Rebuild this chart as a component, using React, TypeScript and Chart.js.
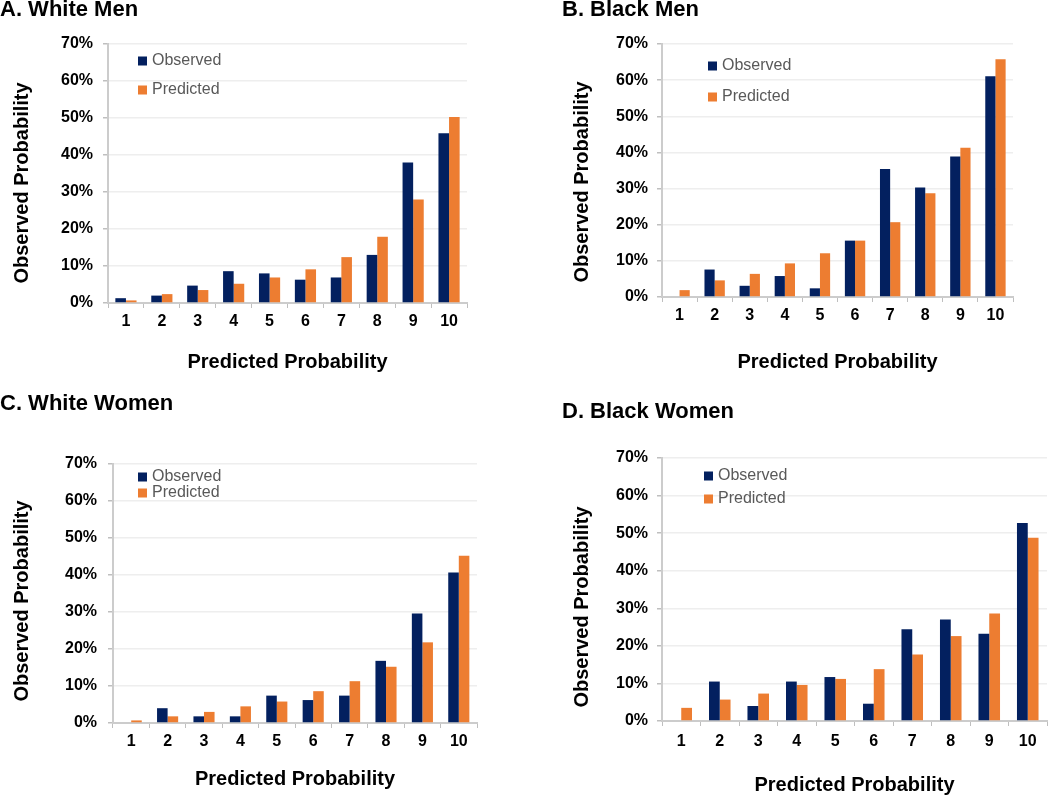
import React, { useEffect, useRef } from 'react';
import { Chart, registerables } from 'chart.js';

Chart.register(...registerables);

// ---------- data ----------
const categories = ['1', '2', '3', '4', '5', '6', '7', '8', '9', '10'];
const yTickValues = [0, 10, 20, 30, 40, 50, 60, 70];
const seriesNames = ['Observed', 'Predicted'];
const xAxisTitle = 'Predicted Probability';
const yAxisTitle = 'Observed Probability';
const panelTitles = ['A. White Men', 'B. Black Men', 'C. White Women', 'D. Black Women'];

const whiteMenObserved = [1.3, 2.0, 4.7, 8.6, 8.0, 6.3, 6.9, 13.0, 38.0, 45.9];
const whiteMenPredicted = [0.7, 2.4, 3.5, 5.2, 6.9, 9.1, 12.4, 17.9, 28.0, 50.3];
const blackMenObserved = [0, 7.6, 3.1, 5.8, 2.4, 15.6, 35.4, 30.3, 38.9, 61.1];
const blackMenPredicted = [1.9, 4.6, 6.4, 9.3, 12.1, 15.6, 20.7, 28.7, 41.3, 65.8];
const whiteWomenObserved = [0, 4.0, 1.8, 1.8, 7.4, 6.2, 7.4, 16.8, 29.6, 40.7];
const whiteWomenPredicted = [0.7, 1.8, 3.0, 4.5, 5.8, 8.6, 11.3, 15.2, 21.8, 45.2];
const blackWomenObserved = [0, 10.5, 4.0, 10.5, 11.7, 4.6, 24.4, 27.0, 23.2, 52.7];
const blackWomenPredicted = [3.5, 5.7, 7.3, 9.6, 11.2, 13.8, 17.7, 22.6, 28.6, 48.8];

// ---------- styles ----------
const FONT = "'Liberation Sans', Arial, Helvetica, sans-serif";
const NAVY = '#03205F';
const ORANGE = '#ED7D31';

const panels = [
  {
    title: panelTitles[0], observed: whiteMenObserved, predicted: whiteMenPredicted,
    x: 0, y: -1, w: 500, h: 381, titleGap: 23, yAxisWidth: 108, padRight: 33,
    xAxisHeight: 77, xTickPad: 4, xTitlePadBottom: 6, yTickPad: 10,
    yTitle: { x: 22, y: 184 }, legend: { x: 30, y: 17, spacing: 29 }, catPct: 0.59,
  },
  {
    title: panelTitles[1], observed: blackMenObserved, predicted: blackMenPredicted,
    x: 562, y: -1, w: 488, h: 381, titleGap: 23, yAxisWidth: 100, padRight: 37,
    xAxisHeight: 83, xTickPad: 4, xTitlePadBottom: 6, yTickPad: 9,
    yTitle: { x: 20, y: 183 }, legend: { x: 46, y: 22, spacing: 31 }, catPct: 0.58,
  },
  {
    title: panelTitles[2], observed: whiteWomenObserved, predicted: whiteWomenPredicted,
    x: 0, y: 393, w: 500, h: 404, titleGap: 49, yAxisWidth: 113, padRight: 23,
    xAxisHeight: 74, xTickPad: 4, xTitlePadBottom: 6, yTickPad: 11,
    yTitle: { x: 22, y: 208 }, legend: { x: 25, y: 13, spacing: 16 }, catPct: 0.58,
  },
  {
    title: panelTitles[3], observed: blackWomenObserved, predicted: blackWomenPredicted,
    x: 562, y: 401, w: 488, h: 396, titleGap: 35, yAxisWidth: 100, padRight: 3,
    xAxisHeight: 76, xTickPad: 6, xTitlePadBottom: 0, yTickPad: 9,
    yTitle: { x: 20, y: 206 }, legend: { x: 42, y: 18, spacing: 23 }, catPct: 0.56,
  },
];

const innerLegend = {
  id: 'innerLegend',
  afterDatasetsDraw(chart: any, _args: any, opts: any) {
    const { ctx, chartArea } = chart;
    ctx.save();
    ctx.font = `16px ${FONT}`;
    ctx.textBaseline = 'middle';
    ctx.textAlign = 'left';
    chart.data.datasets.forEach((ds: any, i: number) => {
      const x = chartArea.left + opts.x;
      const y = chartArea.top + opts.y + i * opts.spacing;
      ctx.fillStyle = ds.backgroundColor;
      ctx.fillRect(x, y - 4.5, 9, 9);
      ctx.fillStyle = '#595959';
      ctx.fillText(ds.label, x + 14, y);
    });
    ctx.restore();
  },
};

const yTitlePlugin = {
  id: 'yTitle',
  afterDraw(chart: any, _args: any, opts: any) {
    const { ctx } = chart;
    ctx.save();
    ctx.translate(opts.x, opts.y);
    ctx.rotate(-Math.PI / 2);
    ctx.font = `bold 20px ${FONT}`;
    ctx.fillStyle = '#000';
    ctx.textAlign = 'center';
    ctx.textBaseline = 'middle';
    ctx.fillText(opts.text, 0, 0);
    ctx.restore();
  },
};

function Panel({ cfg }: { cfg: any }) {
  const ref = useRef<HTMLCanvasElement | null>(null);
  useEffect(() => {
    const chart = new Chart(ref.current as HTMLCanvasElement, {
      type: 'bar',
      data: {
        labels: categories,
        datasets: [
          { label: seriesNames[0], data: cfg.observed, backgroundColor: NAVY, borderWidth: 0,
            categoryPercentage: cfg.catPct, barPercentage: 1 },
          { label: seriesNames[1], data: cfg.predicted, backgroundColor: ORANGE, borderWidth: 0,
            categoryPercentage: cfg.catPct, barPercentage: 1 },
        ],
      },
      plugins: [innerLegend, yTitlePlugin],
      options: {
        animation: false,
        responsive: false,
        devicePixelRatio: 1,
        layout: { padding: { left: 0, top: 0, right: cfg.padRight, bottom: 0 }, autoPadding: false },
        plugins: {
          legend: { display: false },
          tooltip: { enabled: false },
          title: {
            display: true, text: cfg.title, align: 'start', color: '#000',
            font: { family: FONT, size: 22, weight: 'bold', lineHeight: 1 },
            padding: { top: 0, bottom: cfg.titleGap },
          },
          innerLegend: cfg.legend,
          yTitle: { ...cfg.yTitle, text: yAxisTitle },
        } as any,
        scales: {
          x: {
            grid: { display: true, drawOnChartArea: false, drawTicks: true, tickLength: 5,
              tickColor: '#BFBFBF', offset: true },
            border: { display: true, color: '#CCCCCC', width: 2 },
            ticks: { color: '#000', font: { family: FONT, size: 16, weight: 'bold' },
              padding: cfg.xTickPad, maxRotation: 0, autoSkip: false },
            title: { display: true, text: xAxisTitle, color: '#000',
              font: { family: FONT, size: 20, weight: 'bold', lineHeight: 1.2 },
              padding: { top: 0, bottom: cfg.xTitlePadBottom } },
            afterFit: (s: any) => { s.height = cfg.xAxisHeight; },
          },
          y: {
            min: 0, max: 70,
            afterBuildTicks: (s: any) => { s.ticks = yTickValues.map((v) => ({ value: v })); },
            ticks: { color: '#000', font: { family: FONT, size: 16, weight: 'bold' },
              padding: cfg.yTickPad, callback: (v: any) => `${v}%` },
            grid: { color: '#EEEEEE', tickColor: '#BFBFBF', tickLength: 5, lineWidth: 1.5 },
            border: { display: true, color: '#CCCCCC', width: 2 },
            afterFit: (s: any) => { s.width = cfg.yAxisWidth; },
          },
        } as any,
      } as any,
    });
    return () => chart.destroy();
  }, []);
  return (
    <canvas
      ref={ref}
      width={cfg.w}
      height={cfg.h}
      style={{ position: 'absolute', left: cfg.x, top: cfg.y, width: cfg.w, height: cfg.h }}
    />
  );
}

export default function App() {
  return (
    <div style={{ position: 'absolute', left: 0, top: 0, width: 1050, height: 797, background: '#fff', overflow: 'hidden' }}>
      {panels.map((p, i) => (
        <Panel key={i} cfg={p} />
      ))}
    </div>
  );
}
